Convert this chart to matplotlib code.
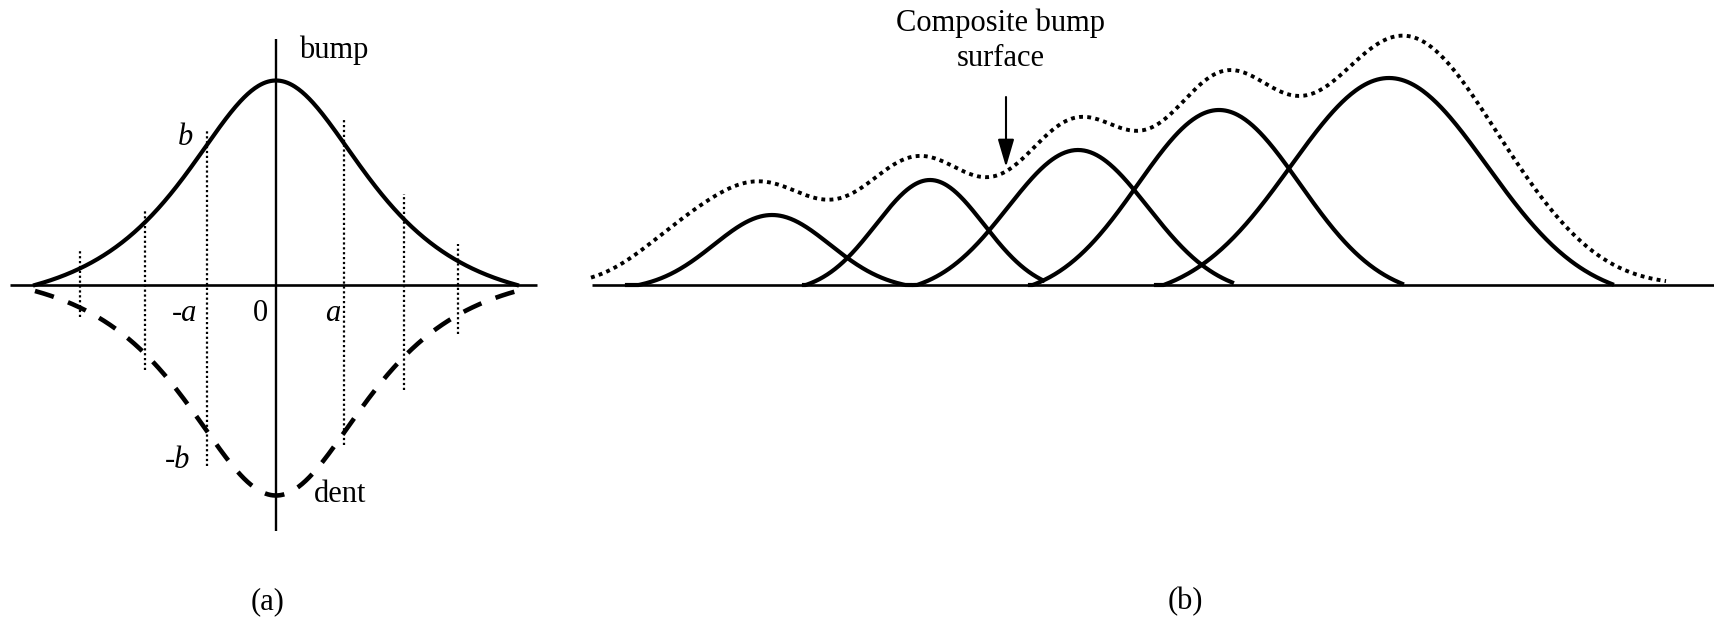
import numpy as np
import matplotlib
matplotlib.use("Agg")
import matplotlib.pyplot as plt
from matplotlib.patches import FancyArrowPatch

plt.rcParams['font.family'] = ['Liberation Serif', 'DejaVu Serif']
plt.rcParams['font.size'] = 22

# ---- panel (a): single bump and dent (units: pixels, y up from axis) ----
a_center = 276
a_bump_height = 204.5
a_dent_depth = 204.5
a_dent_offset = 6
a_width = 80
a_extent = 241
a_axis_x = [10, 537]
a_axis_y = [-246, 246]
drop_x = [80, 145, 207, 344, 404, 458]
drop_top = [36, 76, 156, 167, 91, 41]
drop_bottom = [-32, -85, -181, -160, -105, -49]

# ---- panel (b): five bumps and their composite surface ----
b_axis_x = [592, 1715]
b_centers = [772, 930, 1078, 1219, 1389]
b_heights = [70, 105, 135, 175, 207]
b_sigmas = [58, 54, 70, 81, 98]
b_left = [627, 804, 914, 1030, 1156]
b_right = [910, 1043, 1232, 1402, 1612]

comp_centers = [670, 760, 918, 1076, 1220, 1402, 1530]
comp_heights = [28, 97, 123, 157, 180, 246, 22]
comp_sigmas = [45, 58, 57.7, 57.6, 57, 86, 60]
comp_range = [591, 1666]

arrow_x = 1006
arrow_from = 188
arrow_to = 118


def sech_bump(d, w, D):
    s = 1 / np.cosh(d / w)
    s0 = 1 / np.cosh(D / w)
    return (s - s0) / (1 - s0)


def gauss_bump(d, sig):
    e = np.exp(-d**2 / (2 * sig**2))
    e0 = np.exp(-(2.3 * sig)**2 / (2 * sig**2))
    return np.clip((e - e0) / (1 - e0), 0, None)


fig = plt.figure(figsize=(17.15, 6.23), dpi=100)
ax = fig.add_axes([0, 0, 1, 1])
ax.set_xlim(0, 1715)
ax.set_ylim(285 - 623, 285)
ax.axis('off')

# panel (a)
ax.plot(a_axis_x, [0, 0], color='black', lw=1.9, solid_capstyle='butt')
ax.plot([a_center, a_center], a_axis_y, color='black', lw=1.7, solid_capstyle='butt')
xa = np.linspace(a_center - a_extent, a_center + a_extent, 400)
shape = sech_bump(np.abs(xa - a_center), a_width, a_extent)
ax.plot(xa, a_bump_height * shape, color='black', lw=3.0)
ax.plot(xa, -(a_dent_offset + a_dent_depth * shape), color='black', lw=3.3,
        dashes=(4.3, 3.3), dash_capstyle='butt')
for x, t, b in zip(drop_x, drop_top, drop_bottom):
    ax.plot([x, x], [b, t], color='black', lw=1.6, dashes=(1, 1.2))

ax.text(299, 227, "bump", ha='left', va='baseline')
ax.text(178, 140, "b", ha='left', va='baseline', fontstyle='italic')
ax.text(172, -36, "-a", ha='left', va='baseline', fontstyle='italic')
ax.text(253, -36, "0", ha='left', va='baseline')
ax.text(325, -36, "a", ha='left', va='baseline', fontstyle='italic')
ax.text(165, -183, "-b", ha='left', va='baseline', fontstyle='italic')
ax.text(314, -217, "dent", ha='left', va='baseline')
ax.text(268, -324, "(a)", ha='center', va='baseline')

# panel (b)
ax.plot(b_axis_x, [0, 0], color='black', lw=1.9, solid_capstyle='butt')
for c, h, s, l, r in zip(b_centers, b_heights, b_sigmas, b_left, b_right):
    xb = np.linspace(l, r, 300)
    ax.plot(xb, h * gauss_bump(xb - c, s), color='black', lw=3.0)

xc = np.linspace(comp_range[0], comp_range[1], 800)
yc = np.zeros_like(xc)
for c, h, s in zip(comp_centers, comp_heights, comp_sigmas):
    yc += h * np.exp(-(xc - c)**2 / (2 * s**2))
ax.plot(xc, yc, color='black', lw=2.8, dashes=(1, 1.1))

ax.add_patch(FancyArrowPatch((arrow_x, arrow_from), (arrow_x, arrow_to),
                             arrowstyle='-|>,head_length=1.7,head_width=0.5',
                             mutation_scale=10, lw=1.5, color='black',
                             shrinkA=0, shrinkB=0))
ax.text(1001, 254, "Composite bump", ha='center', va='baseline')
ax.text(1001, 219, "surface", ha='center', va='baseline')
ax.text(1185, -324, "(b)", ha='center', va='baseline')

fig.savefig("out.png", dpi=100)
